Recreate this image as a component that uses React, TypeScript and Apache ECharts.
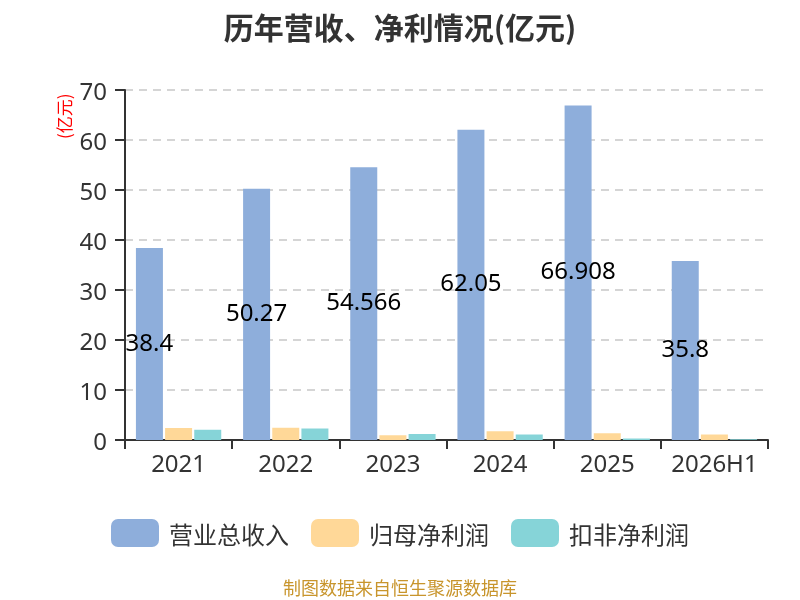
import React, { useEffect, useRef } from "react";
import * as echarts from "echarts";

const categories = ["2021", "2022", "2023", "2024", "2025", "2026H1"];
const revenue = [38.4, 50.27, 54.566, 62.05, 66.908, 35.8];
const netProfit = [2.4, 2.45, 0.95, 1.75, 1.35, 1.1];
const deductedProfit = [2.05, 2.3, 1.2, 1.1, 0.3, 0.15];
const seriesNames = ["营业总收入", "归母净利润", "扣非净利润"];
const yTicks = { min: 0, max: 70, interval: 10 };

const FONT = "'Noto Sans', 'Noto Sans CJK SC', sans-serif";
const CJK = "'Noto Sans CJK SC', 'Noto Sans', sans-serif";

export default function App() {
  const ref = useRef<HTMLDivElement>(null);
  useEffect(() => {
    if (!ref.current) return;
    const chart = echarts.init(ref.current, undefined, { renderer: "svg" });
    chart.setOption({
      animation: false,
      textStyle: { fontFamily: FONT },
      title: {
        text: "历年营收、净利情况(亿元)",
        left: "center",
        top: 6,
        textStyle: { fontSize: 30, fontWeight: "bold", color: "#333", fontFamily: CJK },
      },
      legend: {
        bottom: 48,
        left: "center",
        itemWidth: 48,
        itemHeight: 28,
        itemGap: 22,
        icon: "roundRect",
        textStyle: { fontSize: 24, color: "#333", fontFamily: CJK, padding: [0, 0, 0, 5] },
        data: seriesNames,
      },
      grid: { left: 125, right: 32, top: 90, bottom: 160, containLabel: false },
      xAxis: {
        type: "category",
        data: categories,
        axisLine: { lineStyle: { color: "#333", width: 2 } },
        axisTick: { show: true, interval: 0, length: 9, lineStyle: { color: "#333", width: 2 } },
        axisLabel: { interval: 0, fontSize: 24, color: "#333", margin: 10, fontFamily: FONT },
      },
      yAxis: {
        type: "value",
        min: yTicks.min,
        max: yTicks.max,
        interval: yTicks.interval,
        axisLine: { show: true, lineStyle: { color: "#333", width: 2 } },
        axisTick: { show: true, length: 10, lineStyle: { color: "#333", width: 2 } },
        axisLabel: { fontSize: 24, color: "#333", margin: 18, fontFamily: FONT },
        splitLine: { lineStyle: { type: [8, 6], color: "#c8c8c8", width: 1.5 } },
      },
      graphic: [
        {
          type: "text",
          x: 55,
          y: 139,
          rotation: Math.PI / 2,
          style: { text: "(亿元)", fill: "#ff0000", fontSize: 17, fontFamily: CJK },
        },
        {
          type: "text",
          left: "center",
          top: 578,
          style: { text: "制图数据来自恒生聚源数据库", fill: "#c8952c", fontSize: 18, fontFamily: CJK },
        },
      ],
      series: [
        {
          name: seriesNames[0],
          type: "bar",
          data: revenue,
          barWidth: 27,
          barGap: "8%",
          itemStyle: { color: "#8eaedb" },
          label: {
            show: true,
            position: "inside",
            offset: [0, -3],
            color: "#000",
            fontSize: 24,
            fontFamily: FONT,
          },
          emphasis: { disabled: true },
        },
        {
          name: seriesNames[1],
          type: "bar",
          data: netProfit,
          barWidth: 27,
          barGap: "8%",
          itemStyle: { color: "#ffd898" },
          emphasis: { disabled: true },
        },
        {
          name: seriesNames[2],
          type: "bar",
          data: deductedProfit,
          barWidth: 27,
          barGap: "8%",
          itemStyle: { color: "#86d4d8" },
          emphasis: { disabled: true },
        },
      ],
    });
    return () => chart.dispose();
  }, []);
  return (
    <div
      ref={ref}
      style={{ position: "fixed", left: 0, top: 0, width: 800, height: 600 }}
    />
  );
}
